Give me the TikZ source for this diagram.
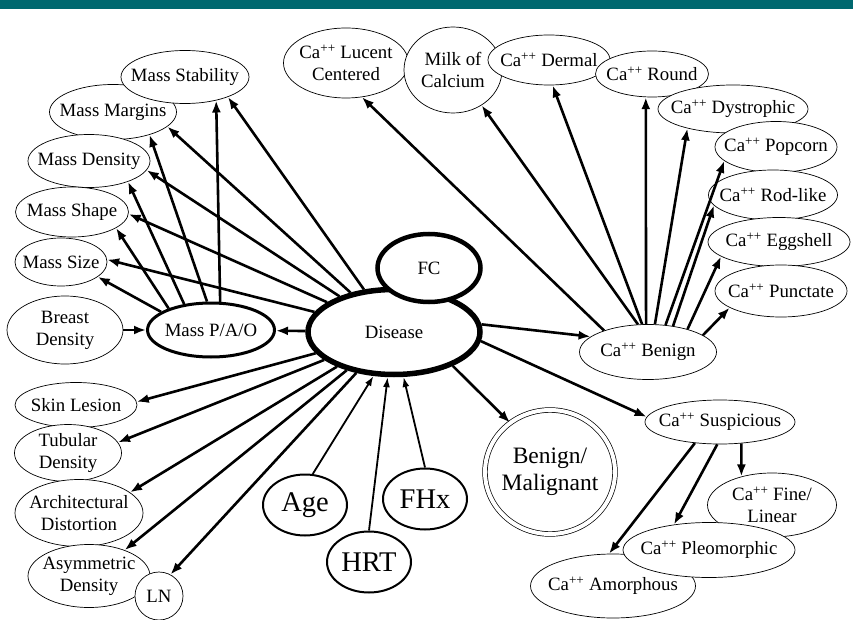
\documentclass[tikz,border=0pt]{standalone}
\usepackage{fontspec}
\setmainfont{Liberation Serif}
\usetikzlibrary{arrows.meta,shapes.geometric}
\definecolor{barteal}{HTML}{00686F}

\begin{document}
\begin{tikzpicture}[x=1pt,y=-1pt,>={Latex[length=12pt,width=9pt]},
  ell/.style={ellipse,draw,fill=white,line width=0.7pt,inner xsep=-40pt,inner ysep=-20pt,
              align=center,font=\fontsize{18.8}{22}\selectfont},
  bigell/.style={ell,line width=2pt,font=\fontsize{28.5}{30}\selectfont},
  arr/.style={->,line width=2.6pt},
  thinarr/.style={->,line width=1.8pt,>={Latex[length=10pt,width=7pt]}}]
\useasboundingbox (0,0) rectangle (853,620);
\fill[barteal] (0,0) rectangle (853,9.5);

% mass findings
\foreach \n/\x/\y/\w/\h/\t in {mmarg/113/112/127/55/{Mass Margins},
                                mstab/185/77/128/53/{Mass Stability},
                                mdens/89/161/122/53/{Mass Density},
                                mshape/72/212/113/50/{Mass Shape},
                                msize/61/262/92/48/{Mass Size},
                                bdens/65/330/116/68/{Breast\\Density}}
  \node[ell,minimum width=\w pt,minimum height=\h pt] (\n) at (\x,\y) {\t};

% other findings on the left
\foreach \n/\x/\y/\w/\h/\t in {skin/76/405/122/45/{Skin Lesion},
                                tub/68/453/107/57/{Tubular\\Density},
                                arch/79/513/128/67/{Architectural\\Distortion},
                                asym/89/576/122/63/{Asymmetric\\Density},
                                ln/159/596/48/48/{LN}}
  \node[ell,minimum width=\w pt,minimum height=\h pt] (\n) at (\x,\y) {\t};

% calcifications
\foreach \n/\x/\y/\w/\h/\t in {luc/346/63/125/70/{Ca\textsuperscript{++} Lucent\\Centered},
                                milk/453/70/98/86/{Milk of\\Calcium},
                                derm/549/60/122/50/{Ca\textsuperscript{++} Dermal},
                                rnd/652/74/113/46/{Ca\textsuperscript{++} Round},
                                dys/733/109/150/48/{Ca\textsuperscript{++} Dystrophic},
                                pop/776/147/122/51/{Ca\textsuperscript{++} Popcorn},
                                rod/773/195/129/50/{Ca\textsuperscript{++} Rod-like},
                                egg/779/242/142/49/{Ca\textsuperscript{++} Eggshell},
                                punc/781/291/132/52/{Ca\textsuperscript{++} Punctate},
                                benign/648/352/137/55/{Ca\textsuperscript{++} Benign},
                                susp/720/422/150/44/{Ca\textsuperscript{++} Suspicious},
                                fine/772/505/129/64/{Ca\textsuperscript{++} Fine/\\Linear},
                                amor/613/586/165/64/{Ca\textsuperscript{++} Amorphous},
                                pleo/709/550/172/55/{Ca\textsuperscript{++} Pleomorphic}}
  \node[ell,minimum width=\w pt,minimum height=\h pt] (\n) at (\x,\y) {\t};

% risk factors
\foreach \n/\x/\y/\t in {age/305/505/Age, hrt/369/562/HRT, fhx/425/499/FHx}
  \node[bigell,minimum width=84pt,minimum height=61pt] (\n) at (\x,\y) {\t};

\node[ell,line width=3pt,minimum width=127pt,minimum height=54pt] (mpao) at (211,330) {Mass P/A/O};
\node[ell,line width=5.5pt,minimum width=172pt,minimum height=85pt] (dis) at (394,332) {Disease};
\node[ell,line width=4.5pt,minimum width=103pt,minimum height=68pt] (fc) at (429,268) {FC};
\node[ell,double,double distance=4pt,minimum width=130pt,minimum height=124pt,
      font=\fontsize{23.5}{27}\selectfont] (bm) at (550,472) {Benign/\\Malignant};

% edges
\foreach \t in {mstab.-25,mmarg.-15,mdens.-9,mshape.-2,msize.3,skin.3,tub.12,arch.22,asym.36,ln.62}
  \draw[arr] (dis) -- (\t);
\foreach \a/\t in {72/mstab.-37,98/mmarg.-32,136/mdens.-28,153/mshape.-20,160/msize.-22}
  \draw[arr] (mpao.\a) -- (\t);
\draw[arr] (dis) -- (mpao);
\draw[arr] (bdens) -- (mpao);
\draw[arr] (dis.-30) -- (bm.129);
\draw[arr] (dis.5) -- (benign.165);
\draw[arr] (dis.-6) -- (susp.176);
\draw[thinarr] (age.76) -- (dis.-115);
\draw[thinarr] (hrt.90) -- (dis.-98);
\draw[thinarr] (fhx.90) -- (dis.-78);
\foreach \a/\t in {154/luc.-65,110/milk.-51,102/derm.-82,94/rnd.-105,76/dys.-157,
                   57/pop.-165,46/rod.-170,30/egg.-166,17/punc.-162}
  \draw[arr] (benign.\a) -- (\t);
\draw[arr] (susp.-45) -- (fine.137);
\draw[arr] (susp.-97) -- (pleo.144);
\draw[arr] (susp.-140) -- (amor.97);
\end{tikzpicture}
\end{document}
